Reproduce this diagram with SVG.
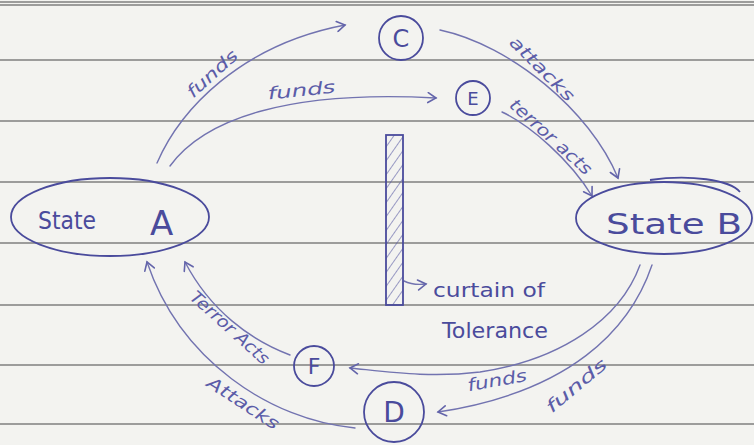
<svg xmlns="http://www.w3.org/2000/svg" width="754" height="445" viewBox="0 0 754 445">
<style>
.rule{stroke:#7f7f7f;stroke-width:1.6;fill:none}
.node{fill:none;stroke:#4a4b9c;stroke-width:1.8}
.edge{fill:none;stroke:#7273b0;stroke-width:1.4;stroke-linecap:round}
.ink{fill:#4a4b9c;font-family:"DejaVu Sans","Liberation Sans",sans-serif}
.lbl{fill:#5b5ca8;font-family:"DejaVu Sans","Liberation Sans",sans-serif;font-size:17px;font-style:italic}
</style>
<defs>
<marker id="arr" viewBox="0 0 12 12" refX="10" refY="6" markerWidth="12" markerHeight="12" markerUnits="userSpaceOnUse" orient="auto">
<path d="M2,1 L10,6 L2,11" fill="none" stroke="#6364aa" stroke-width="1.6" stroke-linecap="round"/>
</marker>
<pattern id="hatch" width="8" height="8" patternUnits="userSpaceOnUse" patternTransform="rotate(35)">
<line x1="0" y1="0" x2="0" y2="8" stroke="#5a5ba5" stroke-width="1.2"/>
</pattern>
</defs>
<rect width="754" height="445" fill="#f3f3f0"/>
<g id="paper">
<line class="rule" x1="0" y1="2" x2="754" y2="2"/>
<line class="rule" x1="0" y1="5" x2="754" y2="5"/>
<line class="rule" x1="0" y1="60" x2="754" y2="60"/>
<line class="rule" x1="0" y1="121" x2="754" y2="121"/>
<line class="rule" x1="0" y1="182" x2="754" y2="182"/>
<line class="rule" x1="0" y1="243" x2="754" y2="243"/>
<line class="rule" x1="0" y1="305" x2="754" y2="305"/>
<line class="rule" x1="0" y1="365" x2="754" y2="365"/>
<line class="rule" x1="0" y1="424" x2="754" y2="424"/>
</g>
<g id="connectors">
<path class="edge" d="M157,163 C180,110 240,45 345,25" marker-end="url(#arr)"/>
<path class="edge" d="M170,166 C205,118 290,90 436,98" marker-end="url(#arr)"/>
<path class="edge" d="M440,30 C510,45 590,110 618,178" marker-end="url(#arr)"/>
<path class="edge" d="M502,112 C530,125 570,160 592,196" marker-end="url(#arr)"/>
<path class="edge" d="M640,265 C620,320 560,360 480,372 C430,378 390,372 350,368" marker-end="url(#arr)"/>
<path class="edge" d="M652,265 C630,330 570,392 438,412" marker-end="url(#arr)"/>
<path class="edge" d="M290,355 C250,340 210,310 185,262" marker-end="url(#arr)"/>
<path class="edge" d="M355,428 C270,420 180,360 147,262" marker-end="url(#arr)"/>
<path class="edge" d="M404,281 C410,284 418,285 426,284" marker-end="url(#arr)"/>
<text class="lbl" transform="translate(216,78) rotate(-42)" text-anchor="middle" textLength="62" lengthAdjust="spacingAndGlyphs">funds</text>
<text class="lbl" transform="translate(302,96) rotate(-6)" text-anchor="middle" textLength="68" lengthAdjust="spacingAndGlyphs">funds</text>
<text class="lbl" transform="translate(538,73) rotate(45)" text-anchor="middle" textLength="84" lengthAdjust="spacingAndGlyphs">attacks</text>
<text class="lbl" transform="translate(547,141) rotate(42)" text-anchor="middle" textLength="104" lengthAdjust="spacingAndGlyphs">terror acts</text>
<text class="lbl" transform="translate(498,386) rotate(-10)" text-anchor="middle" textLength="60" lengthAdjust="spacingAndGlyphs">funds</text>
<text class="lbl" transform="translate(580,390) rotate(-40)" text-anchor="middle" textLength="74" lengthAdjust="spacingAndGlyphs">funds</text>
<text class="lbl" transform="translate(226,332) rotate(42)" text-anchor="middle" textLength="100" lengthAdjust="spacingAndGlyphs">Terror Acts</text>
<text class="lbl" transform="translate(240,408) rotate(33)" text-anchor="middle" textLength="82" lengthAdjust="spacingAndGlyphs">Attacks</text>
</g>
<g id="stateA">
<ellipse class="node" cx="110" cy="217" rx="99" ry="39"/>
<text class="ink" x="38" y="229" font-size="24" textLength="58" lengthAdjust="spacingAndGlyphs">State</text>
<text class="ink" x="150" y="235" font-size="34">A</text>
</g>
<g id="stateB">
<ellipse class="node" cx="664" cy="218" rx="88" ry="36"/>
<path class="node" d="M650,180 C690,174 730,180 740,192"/>
<text class="ink" x="606" y="234" font-size="29" textLength="136" lengthAdjust="spacingAndGlyphs">State B</text>
</g>
<g id="nodeC">
<circle class="node" cx="401" cy="38" r="22"/>
<text class="ink" x="401" y="47" font-size="24" text-anchor="middle">C</text>
</g>
<g id="nodeE">
<circle class="node" cx="473" cy="98" r="17"/>
<text class="ink" x="473" y="105" font-size="18" text-anchor="middle">E</text>
</g>
<g id="nodeF">
<circle class="node" cx="314" cy="366" r="20"/>
<text class="ink" x="314" y="374" font-size="22" text-anchor="middle">F</text>
</g>
<g id="nodeD">
<circle class="node" cx="394" cy="412" r="30"/>
<text class="ink" x="394" y="422" font-size="28" text-anchor="middle">D</text>
</g>
<g id="curtain">
<rect x="386" y="135" width="17" height="170" fill="url(#hatch)" stroke="#4a4b9c" stroke-width="1.8"/>
<text class="ink" x="433" y="297" font-size="20" textLength="112" lengthAdjust="spacingAndGlyphs">curtain of</text>
<text class="ink" x="442" y="338" font-size="22" textLength="106" lengthAdjust="spacingAndGlyphs">Tolerance</text>
</g>
</svg>
